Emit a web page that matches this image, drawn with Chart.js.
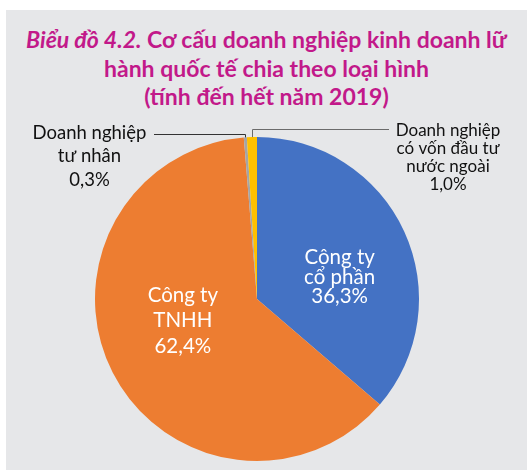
<!DOCTYPE html>
<html>
<head>
<meta charset="utf-8">
<script src="https://cdn.jsdelivr.net/npm/chart.js@4/dist/chart.umd.min.js"></script>
<style>
  html, body { margin: 0; padding: 0; background: #ffffff; }
  #wrap { position: relative; width: 527px; height: 470px; overflow: hidden; }
  #panel { position: absolute; left: 6px; top: 10px; width: 521px; height: 460px; background: #e6e7e9; }
  #title { position: absolute; left: 6px; top: 25px; width: 521px; text-align: center;
           font-family: Lato, "Open Sans", sans-serif; font-weight: bold; font-size: 23px;
           line-height: 28.5px; color: #c2198a; }
  #title i { font-style: italic; }
  canvas { position: absolute; left: 0; top: 0; }
</style>
</head>
<body>
<div id="wrap">
  <div id="panel"></div>
  <div id="title"><i>Biểu đồ 4.2.</i> Cơ cấu doanh nghiệp kinh doanh lữ<br>hành quốc tế chia theo loại hình<br>(tính đến hết năm 2019)</div>
  <canvas id="c" width="527" height="470"></canvas>
</div>
<script>
// ---- data ----
const categories = ["Công ty cổ phần", "Công ty TNHH", "Doanh nghiệp tư nhân", "Doanh nghiệp có vốn đầu tư nước ngoài"];
const shares = [36.3, 62.4, 0.3, 1.0];
const labelLines = [["Công ty", "cổ phần"], ["Công ty", "TNHH"], ["Doanh nghiệp", "tư nhân"], ["Doanh nghiệp", "có vốn đầu tư", "nước ngoài"]];

// ---- styles ----
const sliceColors = ["#4472c4", "#ed7d31", "#a5a5a5", "#ffc000"];
const labelStyle = [
  { inside: true, dx: 9, dy: 12, size: 20.5, lh: 19.5, color: "#ffffff" },
  { inside: true, dx: -2, dy: -15, size: 20.5, lh: 25.5, color: "#ffffff" },
  { inside: false, side: "left", elbowY: 134, endX: 154, textX: 89.5, textY: 133, size: 18.5, lh: 23.5, color: "#111111", lineColor: "#333333" },
  { inside: false, side: "right", elbowY: 129, endX: 389, textX: 448, textY: 131, size: 17, lh: 18, color: "#111111", lineColor: "#6b6b6b" }
];

function fmt(v) { return v.toFixed(1).replace(".", ",") + "%"; }

const labelPlugin = {
  id: "sliceLabels",
  afterDatasetsDraw(chart) {
    const ctx = chart.ctx;
    const meta = chart.getDatasetMeta(0);
    meta.data.forEach((arc, i) => {
      const st = labelStyle[i];
      const lines = labelLines[i].concat([fmt(shares[i])]);
      ctx.save();
      ctx.font = st.size + "px Lato, 'Open Sans', sans-serif";
      ctx.fillStyle = st.color;
      ctx.textAlign = "center";
      ctx.textBaseline = "middle";
      if (st.inside) {
        const p = arc.tooltipPosition();
        const cx = p.x + st.dx, cy = p.y + st.dy;
        const y0 = cy - (lines.length - 1) * st.lh / 2;
        lines.forEach((t, k) => ctx.fillText(t, cx, y0 + k * st.lh));
      } else {
        const mid = (arc.startAngle + arc.endAngle) / 2;
        const ex = arc.x + Math.cos(mid) * arc.outerRadius;
        const ey = arc.y + Math.sin(mid) * arc.outerRadius;
        ctx.strokeStyle = st.lineColor;
        ctx.lineWidth = 1;
        ctx.beginPath();
        ctx.moveTo(Math.round(ex) + 0.5, ey);
        ctx.lineTo(Math.round(ex) + 0.5, st.elbowY + 0.5);
        ctx.lineTo(st.endX, st.elbowY + 0.5);
        ctx.stroke();
        lines.forEach((t, k) => ctx.fillText(t, st.textX, st.textY + k * st.lh));
      }
      ctx.restore();
    });
  }
};

new Chart(document.getElementById("c"), {
  type: "pie",
  data: {
    labels: categories,
    datasets: [{ data: shares, backgroundColor: sliceColors, borderWidth: 0 }]
  },
  options: {
    responsive: false,
    animation: false,
    layout: { padding: { left: 95, right: 108, top: 137, bottom: 9 } },
    plugins: { legend: { display: false }, tooltip: { enabled: false }, title: { display: false } }
  },
  plugins: [labelPlugin]
});
</script>
</body>
</html>
